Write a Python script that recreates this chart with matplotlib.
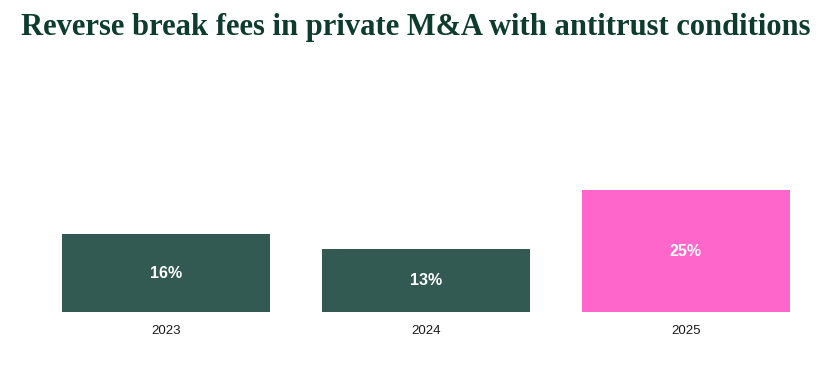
import matplotlib
matplotlib.use("Agg")
import matplotlib.pyplot as plt

years = ["2023", "2024", "2025"]
values = [16, 13, 25]
colors = ["#335a52", "#335a52", "#ff66cc"]

title = "Reverse break fees in private M&A with antitrust conditions"

fig = plt.figure(figsize=(8.39, 3.85), dpi=100)
ax = fig.add_axes([36 / 839, 73 / 385, 780 / 839, 146 / 385])

x = range(len(years))
bars = ax.bar(x, values, width=0.8, color=colors)
for b, v in zip(bars, values):
    ax.text(b.get_x() + b.get_width() / 2, v / 2, f"{v}%", ha="center", va="center",
            color="white", fontsize=11.5, fontweight="bold", family="Liberation Sans")

ax.set_xlim(-0.5, 2.5)
ax.set_ylim(0, 30)
ax.set_xticks(list(x))
ax.set_xticklabels(years, fontsize=9.5, family="Liberation Sans", color="#1a1a1a")
ax.tick_params(axis="x", length=0, pad=9.5)
ax.set_yticks([])
for s in ax.spines.values():
    s.set_visible(False)

fig.text(416 / 839, 1 - 27 / 385, title, ha="center", va="center",
         fontsize=22, fontweight="bold", family="Liberation Serif", color="#0d3b2e")

fig.savefig("out.png", dpi=100)
